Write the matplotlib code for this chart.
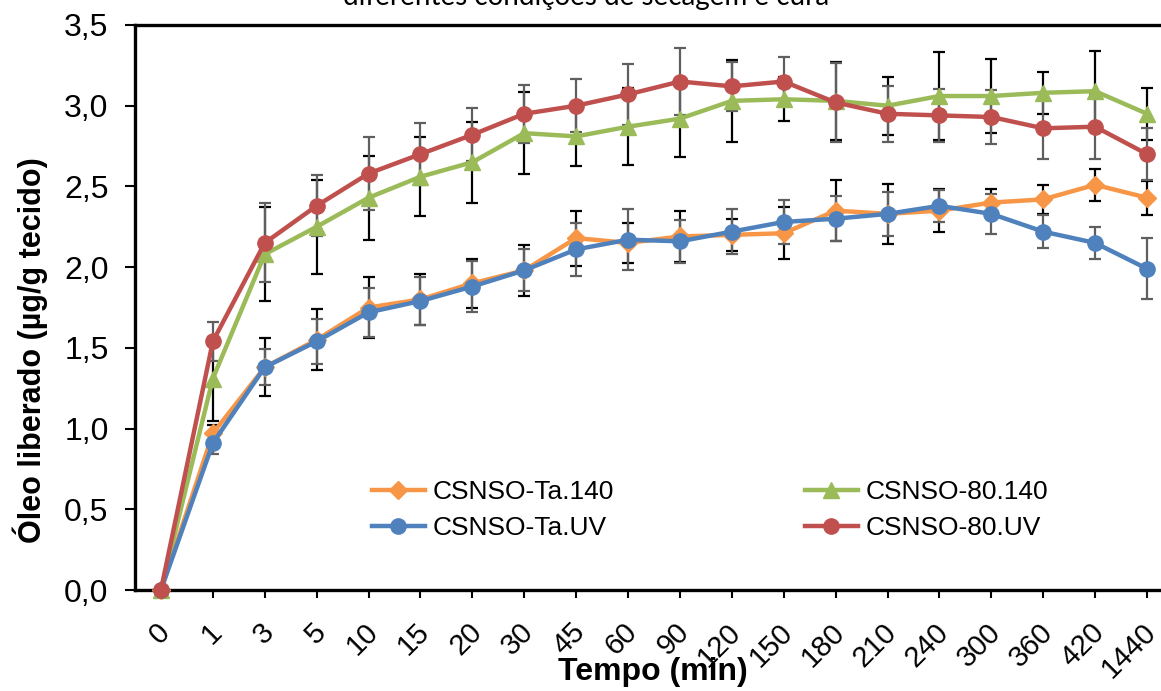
import matplotlib
matplotlib.use("Agg")
import matplotlib.pyplot as plt
import matplotlib.transforms as mtransforms
from matplotlib import font_manager as fm
import numpy as np

# ---------------- data ----------------
categories = ['0', '1', '3', '5', '10', '15', '20', '30', '45', '60', '90',
              '120', '150', '180', '210', '240', '300', '360', '420', '1440']

ta_140 = [0, 0.97, 1.38, 1.55, 1.75, 1.80, 1.90, 1.98, 2.18, 2.15, 2.19,
          2.20, 2.21, 2.35, 2.33, 2.35, 2.40, 2.42, 2.51, 2.43]
ta_140_err = [0, 0.05, 0.18, 0.19, 0.19, 0.16, 0.15, 0.16, 0.17, 0.125, 0.16,
              0.10, 0.16, 0.19, 0.186, 0.135, 0.085, 0.09, 0.10, 0.105]

s80_140 = [0, 1.31, 2.08, 2.25, 2.43, 2.56, 2.65, 2.83, 2.81, 2.87, 2.92,
           3.03, 3.04, 3.03, 3.00, 3.06, 3.06, 3.08, 3.09, 2.95]
s80_140_err = [0, 0.26, 0.29, 0.29, 0.26, 0.245, 0.25, 0.255, 0.185, 0.24, 0.24,
               0.255, 0.135, 0.24, 0.18, 0.27, 0.23, 0.13, 0.25, 0.16]

ta_uv = [0, 0.91, 1.38, 1.54, 1.72, 1.79, 1.88, 1.98, 2.11, 2.17, 2.16,
         2.22, 2.28, 2.30, 2.33, 2.38, 2.33, 2.22, 2.15, 1.99]
ta_uv_err = [0, 0.07, 0.11, 0.14, 0.15, 0.15, 0.16, 0.13, 0.165, 0.19, 0.135,
             0.14, 0.136, 0.14, 0.137, 0.10, 0.125, 0.10, 0.10, 0.19]

s80_uv = [0, 1.54, 2.15, 2.38, 2.58, 2.70, 2.82, 2.95, 3.00, 3.07, 3.15,
          3.12, 3.15, 3.02, 2.95, 2.94, 2.93, 2.86, 2.87, 2.70]
s80_uv_err = [0, 0.12, 0.245, 0.19, 0.225, 0.19, 0.165, 0.18, 0.165, 0.19, 0.21,
              0.15, 0.15, 0.245, 0.175, 0.163, 0.165, 0.19, 0.20, 0.16]

series_names = ['CSNSO-Ta.140', 'CSNSO-80.140', 'CSNSO-Ta.UV', 'CSNSO-80.UV']

y_ticks = [0.0, 0.5, 1.0, 1.5, 2.0, 2.5, 3.0, 3.5]
y_tick_labels = ['0,0', '0,5', '1,0', '1,5', '2,0', '2,5', '3,0', '3,5']

title_text = 'diferentes condições de secagem e cura'
x_label = 'Tempo (min)'
y_label = 'Óleo liberado (µg/g tecido)'

# ---------------- fonts ----------------
def has_font(name):
    try:
        fm.findfont(fm.FontProperties(family=name), fallback_to_default=False)
        return True
    except Exception:
        return False

base = 'Liberation Sans'
narrow = 'Liberation Sans Narrow' if has_font('Liberation Sans Narrow') else base
plt.rcParams['font.family'] = [base, 'DejaVu Sans']

# ---------------- figure ----------------
W, H = 1161, 691
fig = plt.figure(figsize=(W / 100, H / 100), dpi=100)
left_px, right_px, top_px, bottom_px = 135, 1173, 25, 590
ax = fig.add_axes([left_px / W, 1 - bottom_px / H,
                   (right_px - left_px) / W, (bottom_px - top_px) / H])

x = np.arange(len(categories))

styles = [
    (ta_140, ta_140_err, '#F79646', 'D', 9.5, 'black'),
    (s80_140, s80_140_err, '#9BBB59', '^', 11.5, 'black'),
    (ta_uv, ta_uv_err, '#4F81BD', 'o', 11, '#5f5f5f'),
    (s80_uv, s80_uv_err, '#C0504D', 'o', 11, '#5f5f5f'),
]

handles = []
for i, (vals, errs, col, mk, ms, ecol) in enumerate(styles):
    ax.errorbar(x, vals, yerr=errs, fmt='none', ecolor=ecol, elinewidth=1.6,
                capsize=4.5, capthick=1.6, zorder=2 + i * 0.1)
    h, = ax.plot(x, vals, color=col, lw=3.2, marker=mk, markersize=ms,
                 markeredgecolor=col, markerfacecolor=col, zorder=3 + i * 0.1,
                 clip_on=False, label=series_names[i])
    handles.append(h)

ax.set_xlim(-0.5, len(categories) - 0.5)
ax.set_ylim(0, 3.5)
ax.set_yticks(y_ticks)
ax.set_yticklabels(y_tick_labels)
ax.set_xticks(x)
ax.set_xticklabels(categories, rotation=45, ha='right', va='top',
                   rotation_mode='anchor')

for sp in ax.spines.values():
    sp.set_linewidth(2.4)
    sp.set_color('black')

ax.tick_params(axis='y', direction='out', length=7, width=1.5, pad=12,
               labelsize=23)
ax.tick_params(axis='x', direction='out', length=6, width=1.5, pad=14,
               labelsize=21)

offset = mtransforms.ScaledTranslation(-5 / 100, 0, fig.dpi_scale_trans)
for lab in ax.get_xticklabels():
    lab.set_transform(lab.get_transform() + offset)
    lab.set_family([narrow, base])

# axis labels
fig.text(30 / W, 1 - 350 / H, y_label, rotation=90, ha='center', va='center',
         fontsize=22, fontweight='bold', family=[narrow, base, 'DejaVu Sans'])
fig.text(653 / W, 1 - 672 / H, x_label, ha='center', va='center',
         fontsize=23, fontweight='bold', family=[narrow, base])

# partly cut title at very top
fig.text(586 / W, 1 - 5.5 / H, title_text, ha='center', va='baseline',
         fontsize=20, family=['Lato', 'DejaVu Sans'], color='black')

# legends (two columns placed separately)
leg_kw = dict(frameon=False, fontsize=19, handlelength=2.0, handletextpad=0.3,
              labelspacing=0.45, borderpad=0, borderaxespad=0, loc='upper left')
leg1 = fig.legend([handles[0], handles[2]], [series_names[0], series_names[2]],
                  bbox_to_anchor=(372 / W, 1 - 480 / H), **leg_kw)
leg2 = fig.legend([handles[1], handles[3]], [series_names[1], series_names[3]],
                  bbox_to_anchor=(805 / W, 1 - 480 / H), **leg_kw)

fig.savefig('out.png', dpi=100)
